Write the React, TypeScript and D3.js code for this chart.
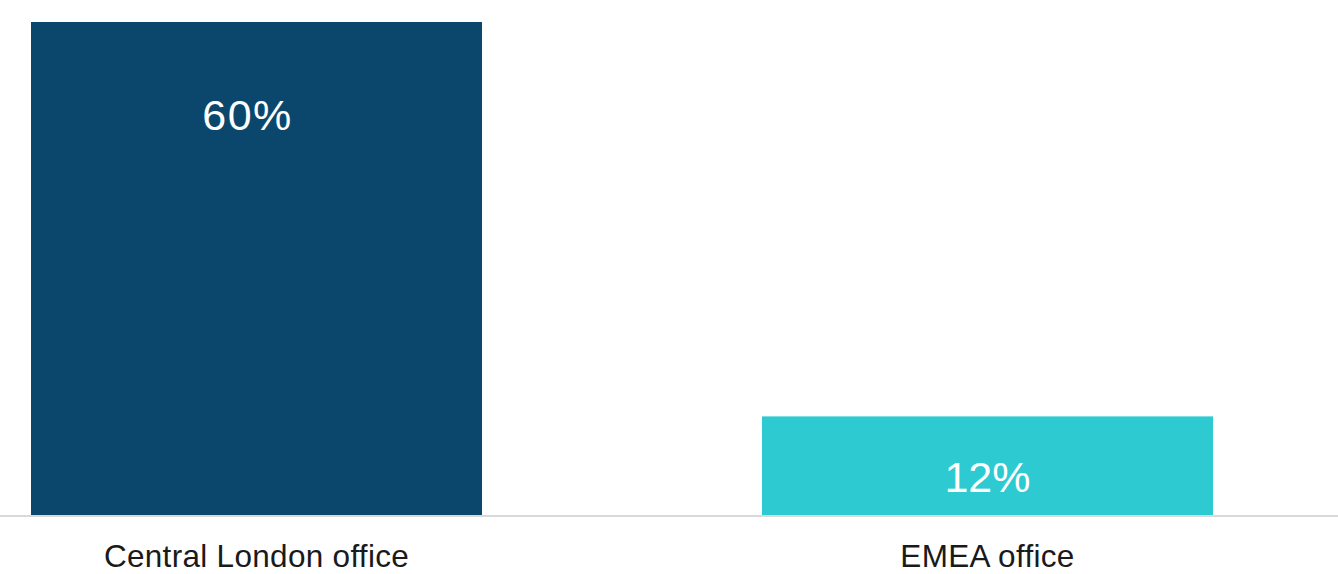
import React from "react";
import * as d3 from "d3";

const categories = ["Central London office", "EMEA office"];
const values = [60, 12];
const valueLabels = ["60%", "12%"];
const colors = ["#0b476d", "#2ecad2"];

const W = 1338;
const H = 574;
const baseY = 515;

export default function App() {
  const x = d3.scaleBand<string>().domain(categories).range([31, 1213]).paddingInner(0.383).paddingOuter(0);
  const y = d3.scaleLinear().domain([0, 60]).range([baseY, 22]);
  const font = "'Liberation Sans', Arial, Helvetica, sans-serif";
  return (
    <svg width={W} height={H} style={{ position: "absolute", left: 0, top: 0 }}>
      <rect width={W} height={H} fill="#ffffff" />
      {categories.map((c, i) => {
        const x0 = x(c)!;
        const bw = x.bandwidth();
        const top = y(values[i]);
        const labelY = Math.min(top + 108, baseY - 23);
        const dx = i === 0 ? -9 : 0;
        return (
          <g key={c}>
            <rect x={x0} y={top} width={bw} height={baseY - top} fill={colors[i]} />
            <text x={x0 + bw / 2 + dx} y={labelY} textAnchor="middle" fill="#ffffff" fontSize={43} fontFamily={font} letterSpacing={i === 0 ? 1.5 : 0}>
              {valueLabels[i]}
            </text>
            <text x={x0 + bw / 2} y={567} textAnchor="middle" fill="#1a1a1a" fontSize={31.5} fontFamily={font} letterSpacing={0.3}>
              {c}
            </text>
          </g>
        );
      })}
      <rect x={0} y={baseY} width={W} height={2} fill="#d9d9d9" />
    </svg>
  );
}
